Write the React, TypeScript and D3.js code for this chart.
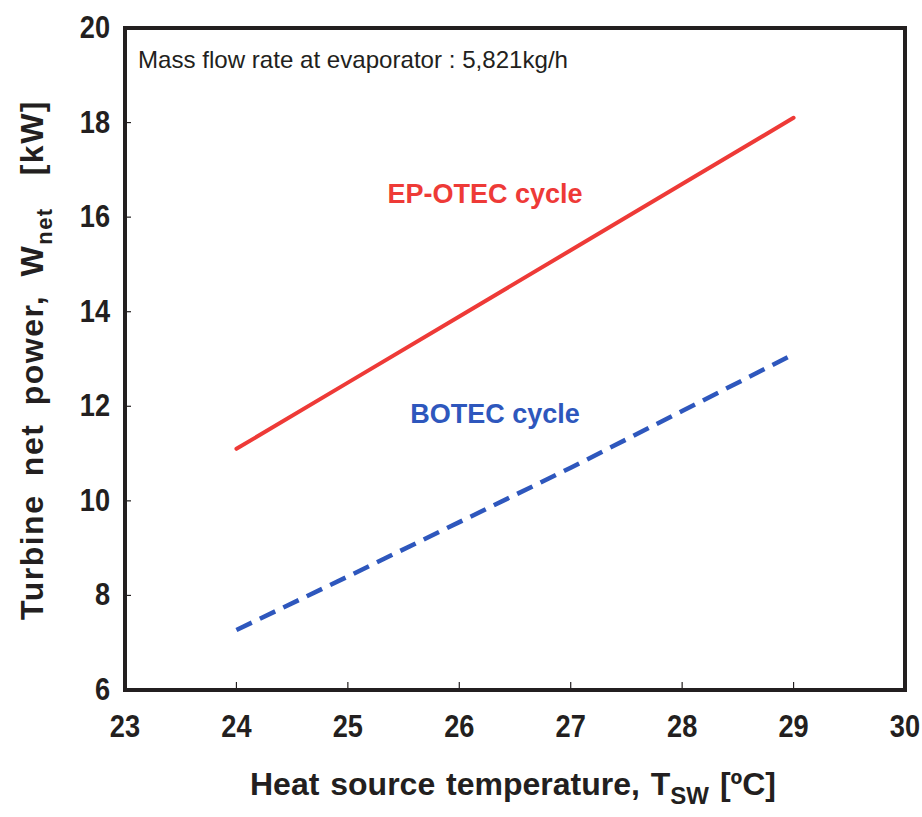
import { useEffect, useRef } from "react";
import * as d3 from "d3";

const temps = [24, 25, 26, 27, 28, 29];
const epOtec = [11.1, 12.5, 13.9, 15.3, 16.7, 18.1];
const botec = [7.27, 8.4, 9.55, 10.7, 11.9, 13.1];
const xTicks = [23, 24, 25, 26, 27, 28, 29, 30];
const yTicks = [6, 8, 10, 12, 14, 16, 18, 20];

const W = 922;
const H = 817;

export default function App() {
  const ref = useRef<SVGSVGElement>(null);

  useEffect(() => {
    const margin = { left: 125, top: 28, right: 17, bottom: 127 };
    const inner = {
      width: W - margin.left - margin.right,
      height: H - margin.top - margin.bottom,
    };

    const svg = d3.select(ref.current);
    svg.selectAll("*").remove();
    const font = "'Liberation Sans', Arial, sans-serif";
    const ink = "#231f20";

    const chart = svg
      .append("g")
      .attr("transform", `translate(${margin.left}, ${margin.top})`);

    const x = d3.scaleLinear().domain([23, 30]).range([0, inner.width]);
    const y = d3.scaleLinear().domain([6, 20]).range([inner.height, 0]);

    // inward ticks, only the inner ones
    chart
      .selectAll(".xt")
      .data(xTicks.slice(1, -1))
      .enter()
      .append("line")
      .attr("x1", (d) => x(d))
      .attr("x2", (d) => x(d))
      .attr("y1", inner.height)
      .attr("y2", inner.height - 8)
      .attr("stroke", ink)
      .attr("stroke-width", 1.2);
    chart
      .selectAll(".yt")
      .data(yTicks.slice(1, -1))
      .enter()
      .append("line")
      .attr("x1", 0)
      .attr("x2", 6)
      .attr("y1", (d) => y(d))
      .attr("y2", (d) => y(d))
      .attr("stroke", ink)
      .attr("stroke-width", 1.2);

    // tick labels (condensed bold)
    const sx = 0.85;
    chart
      .selectAll(".xl")
      .data(xTicks)
      .enter()
      .append("text")
      .attr("x", (d) => x(d))
      .attr("y", inner.height + 47)
      .attr("text-anchor", "middle")
      .attr("font-family", font)
      .attr("font-weight", "bold")
      .attr("font-size", 32)
      .attr("fill", ink)
      .attr("transform", (d) => `translate(${x(d)},0) scale(${sx},1) translate(${-x(d)},0)`)
      .text((d) => d);
    chart
      .selectAll(".yl")
      .data(yTicks)
      .enter()
      .append("text")
      .attr("x", -15)
      .attr("y", (d) => y(d) + 10)
      .attr("text-anchor", "end")
      .attr("font-family", font)
      .attr("font-weight", "bold")
      .attr("font-size", 32)
      .attr("fill", ink)
      .attr("transform", `translate(-15,0) scale(${sx},1) translate(15,0)`)
      .text((d) => d);

    // series
    const line = d3
      .line<number>()
      .x((_, i) => x(temps[i]))
      .y((d) => y(d));

    chart
      .append("path")
      .datum(epOtec)
      .attr("d", line)
      .attr("fill", "none")
      .attr("stroke", "#ee3a37")
      .attr("stroke-width", 4)
      .attr("stroke-linecap", "round");

    chart
      .append("path")
      .datum(botec)
      .attr("d", line)
      .attr("fill", "none")
      .attr("stroke", "#2e57bd")
      .attr("stroke-width", 4.5)
      .attr("stroke-dasharray", "17 9");

    // frame
    chart
      .append("rect")
      .attr("width", inner.width)
      .attr("height", inner.height)
      .attr("fill", "none")
      .attr("stroke", ink)
      .attr("stroke-width", 4);

    // annotations
    chart
      .append("text")
      .attr("x", 13)
      .attr("y", 40)
      .attr("font-family", font)
      .attr("font-size", 24)
      .attr("fill", ink)
      .attr("textLength", 430)
      .attr("lengthAdjust", "spacingAndGlyphs")
      .text("Mass flow rate at evaporator : 5,821kg/h");

    chart
      .append("text")
      .attr("x", x(26.23))
      .attr("y", y(16.3))
      .attr("text-anchor", "middle")
      .attr("font-family", font)
      .attr("font-weight", "bold")
      .attr("font-size", 27)
      .attr("fill", "#ee3a37")
      .text("EP-OTEC cycle");

    chart
      .append("text")
      .attr("x", x(26.32))
      .attr("y", y(11.65))
      .attr("text-anchor", "middle")
      .attr("font-family", font)
      .attr("font-weight", "bold")
      .attr("font-size", 27)
      .attr("fill", "#2e57bd")
      .text("BOTEC cycle");

    // axis titles
    const xt = svg
      .append("text")
      .attr("x", 513)
      .attr("y", 795)
      .attr("text-anchor", "middle")
      .attr("font-family", font)
      .attr("font-weight", "bold")
      .attr("font-size", 32)
      .attr("word-spacing", 2)
      .attr("fill", ink);
    xt.append("tspan").text("Heat source temperature, T");
    xt.append("tspan").attr("dy", 9).attr("font-size", 24).text("SW");
    xt.append("tspan").attr("dy", -9).text(" [\u00baC]");

    const yt = svg
      .append("text")
      .attr("transform", "translate(43, 360) rotate(-90)")
      .attr("text-anchor", "middle")
      .attr("font-family", font)
      .attr("font-weight", "bold")
      .attr("font-size", 32)
      .attr("letter-spacing", 1.5)
      .attr("word-spacing", 8)
      .attr("fill", ink);
    yt.append("tspan").text("Turbine net power, W");
    yt.append("tspan").attr("dy", 9).attr("font-size", 22).text("net");
    yt.append("tspan").attr("dy", -9).attr("dx", 32).text("[kW]");
  }, []);

  return (
    <svg
      ref={ref}
      width={W}
      height={H}
      style={{ position: "absolute", left: 0, top: 0, background: "#fff" }}
    />
  );
}
